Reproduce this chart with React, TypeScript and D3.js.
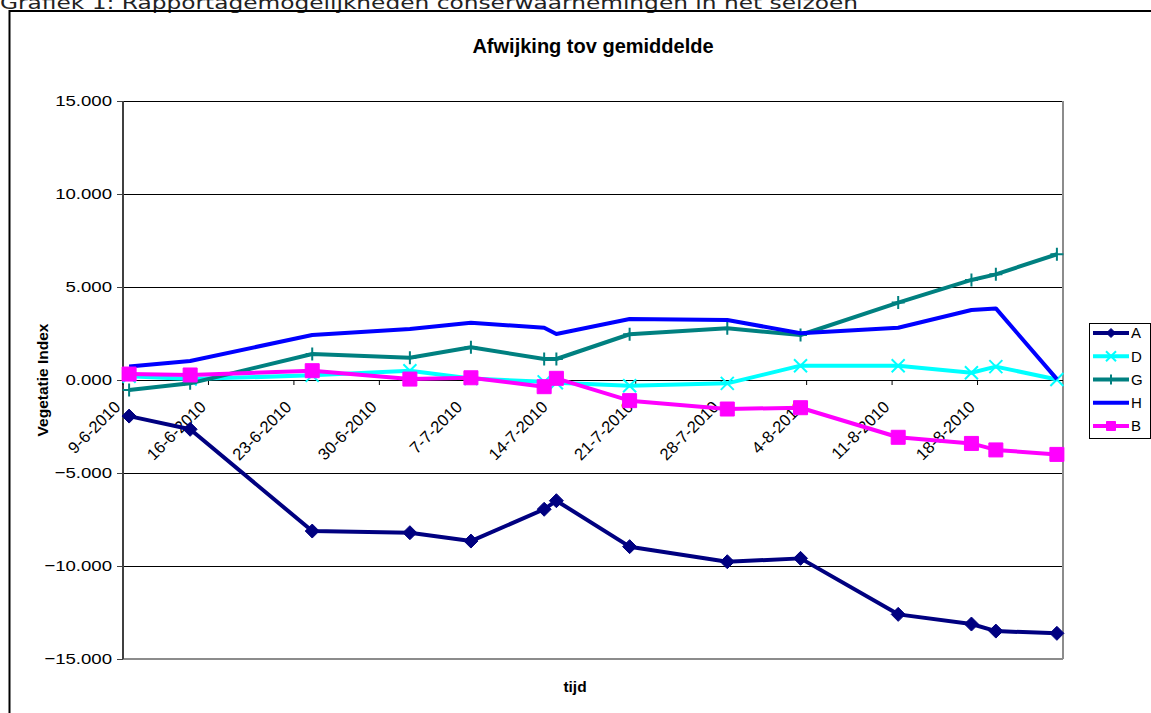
import React from "react";
import * as d3 from "d3";

// Observation dates (day-month-year)
const dates: string[] = [
  "2010-06-09", "2010-06-14", "2010-06-24", "2010-07-02", "2010-07-07",
  "2010-07-13", "2010-07-14", "2010-07-20", "2010-07-28", "2010-08-03",
  "2010-08-11", "2010-08-17", "2010-08-19", "2010-08-24",
];

// Deviation from the mean, per series
const valuesA = [-1.94, -2.65, -8.12, -8.21, -8.66, -6.95, -6.49, -8.96, -9.77, -9.59, -12.6, -13.12, -13.5, -13.62];
const valuesD = [0.2, 0.05, 0.25, 0.5, 0.08, -0.1, -0.15, -0.31, -0.18, 0.77, 0.77, 0.39, 0.72, 0.03];
const valuesG = [-0.54, -0.18, 1.4, 1.2, 1.76, 1.13, 1.13, 2.46, 2.78, 2.42, 4.16, 5.38, 5.68, 6.76];
const valuesH = [0.72, 1.02, 2.42, 2.74, 3.08, 2.81, 2.47, 3.28, 3.23, 2.51, 2.81, 3.76, 3.85, 0.05];
const valuesB = [0.32, 0.27, 0.5, 0.05, 0.12, -0.36, 0.09, -1.11, -1.56, -1.49, -3.08, -3.41, -3.76, -4.0];

const seriesNames = ["A", "D", "G", "H", "B"];
const seriesColors = ["#000080", "#00FFFF", "#008080", "#0000FF", "#FF00FF"];
const seriesMarkers = ["diamond", "times", "plus", "none", "square"];
const seriesValues = [valuesA, valuesD, valuesG, valuesH, valuesB];

const yTicks = [-15, -10, -5, 0, 5, 10, 15];

const chartTitle = "Afwijking tov gemiddelde";
const yTitle = "Vegetatie Index";
const xTitle = "tijd";
const captionText = "Grafiek 1: Rapportagemogelijkheden conserwaarnemingen in het seizoen";

const W = 1151;
const H = 713;
const M = { left: 123, right: 1063, top: 101, bottom: 659 };
const FONT = "'Liberation Sans', Arial, sans-serif";

const parse = d3.utcParse("%Y-%m-%d");
const fmtDate = d3.utcFormat("%-d-%-m-%Y");
const fmtY = d3.format(".3f");

const axisStart = parse("2010-06-09") as Date;
const axisEnd = parse("2010-08-25") as Date;

const x = d3.scaleUtc().domain([axisStart, axisEnd]).range([M.left, M.right]);
const y = d3.scaleLinear().domain([-15, 15]).range([M.bottom, M.top]);

const HALF_DAY = 12 * 3600 * 1000;
const px = (d: Date) => x(new Date(d.getTime() + HALF_DAY));

const weekTicks = d3.utcDay.range(axisStart, axisEnd, 7);
const parsedDates = dates.map((s) => parse(s) as Date);

function markerPath(kind: string, s: number): string {
  const h = s / 2;
  switch (kind) {
    case "diamond":
      return `M0,${-h}L${h},0L0,${h}L${-h},0Z`;
    case "square":
      return `M${-h},${-h}H${h}V${h}H${-h}Z`;
    case "times":
      return `M${-h},${-h}L${h},${h}M${-h},${h}L${h},${-h}`;
    case "plus":
      return `M0,${-h}V${h}M${-h},0H${h}`;
    default:
      return "";
  }
}

const markerSize: Record<string, number> = { diamond: 14, square: 14, times: 13, plus: 13 };
const legendMarkerSize: Record<string, number> = { diamond: 9, square: 9, times: 10, plus: 10 };

function Marker({ kind, color, s, cx, cy }: { kind: string; color: string; s: number; cx: number; cy: number }) {
  if (kind === "none") return null;
  const filled = kind === "diamond" || kind === "square";
  return (
    <path
      d={markerPath(kind, s)}
      transform={`translate(${cx},${cy})`}
      fill={filled ? color : "none"}
      stroke={color}
      strokeWidth={filled ? 1 : 2}
    />
  );
}

export default function App() {
  const line = d3
    .line<[Date, number]>()
    .x((d) => px(d[0]))
    .y((d) => y(d[1]));

  const legendX = 1089;
  const legendY = 323;
  const legendRow = 23.25;

  return (
    <svg
      width={W}
      height={H}
      style={{ position: "absolute", left: 0, top: 0, display: "block", background: "#fff" }}
      fontFamily={FONT}
    >
      <rect x={0} y={0} width={W} height={H} fill="#fff" />
      {/* caption above the frame, partly cut off by the page top */}
      <text x={0} y={9} fontFamily="'DejaVu Sans', Verdana, sans-serif" fontSize={17} fill="#222" textLength={858} lengthAdjust="spacingAndGlyphs">
        {captionText}
      </text>
      {/* outer chart frame */}
      <rect x={9.5} y={11} width={1300} height={900} fill="none" stroke="#000" strokeWidth={2} />

      <text x={593} y={53} textAnchor="middle" fontWeight="bold" fontSize={20}>
        {chartTitle}
      </text>

      {/* horizontal gridlines */}
      {yTicks
        .filter((t) => t !== -15 && t !== 0)
        .map((t) => (
          <line key={`g${t}`} x1={M.left} x2={M.right} y1={y(t) + 0.5} y2={y(t) + 0.5} stroke="#000" strokeWidth={1} />
        ))}

      {/* plot border right/bottom */}
      <line x1={M.right} x2={M.right} y1={M.top} y2={M.bottom} stroke="#8c8c8c" strokeWidth={2} />
      <line x1={M.left} x2={M.right} y1={M.bottom} y2={M.bottom} stroke="#8c8c8c" strokeWidth={2} />

      {/* y axis */}
      <line x1={M.left} x2={M.left} y1={M.top} y2={M.bottom} stroke="#404040" strokeWidth={2} />
      {yTicks.map((t) => (
        <g key={`y${t}`}>
          <line x1={M.left - 6} x2={M.left} y1={y(t) + 0.5} y2={y(t) + 0.5} stroke="#404040" strokeWidth={1} />
          <text
            transform={`translate(112,${y(t)}) scale(1.2,1)`}
            dy="0.35em"
            textAnchor="end"
            fontSize={15.5}
          >
            {fmtY(t)}
          </text>
        </g>
      ))}

      {/* x axis at zero */}
      <line x1={M.left} x2={M.right} y1={y(0) + 0.5} y2={y(0) + 0.5} stroke="#000" strokeWidth={1} />
      {weekTicks.map((d) => (
        <g key={`x${d.getTime()}`}>
          <line x1={x(d)} x2={x(d)} y1={y(0)} y2={y(0) + 5} stroke="#000" strokeWidth={1} />
          <text
            transform={`translate(${x(d) - 1.5},${y(0) + 28}) rotate(-45)`}
            textAnchor="end"
            fontSize={16.5}
          >
            {fmtDate(d)}
          </text>
        </g>
      ))}

      {/* series */}
      {seriesValues.map((vals, i) => {
        const pts: [Date, number][] = parsedDates.map((d, j) => [d, vals[j]]);
        return (
          <g key={seriesNames[i]}>
            <path d={line(pts) || ""} fill="none" stroke={seriesColors[i]} strokeWidth={4} strokeLinejoin="round" />
            {pts.map((p, j) => (
              <Marker
                key={j}
                kind={seriesMarkers[i]}
                color={seriesColors[i]}
                s={markerSize[seriesMarkers[i]] || 0}
                cx={px(p[0])}
                cy={y(p[1])}
              />
            ))}
          </g>
        );
      })}

      <text x={43} y={380} textAnchor="middle" fontWeight="bold" fontSize={15.5} transform="rotate(-90,43,380)" dy="0.35em">
        {yTitle}
      </text>
      <text x={575} y={687} textAnchor="middle" fontWeight="bold" fontSize={15.5} dy="0.35em">
        {xTitle}
      </text>

      {/* legend */}
      <rect x={legendX + 0.5} y={legendY + 0.5} width={61} height={115} fill="#fff" stroke="#000" strokeWidth={1} />
      {seriesNames.map((name, i) => {
        const cy = legendY + 10 + i * legendRow;
        return (
          <g key={`l${name}`}>
            <line x1={1093} x2={1129} y1={cy} y2={cy} stroke={seriesColors[i]} strokeWidth={4} />
            <Marker kind={seriesMarkers[i]} color={seriesColors[i]} s={legendMarkerSize[seriesMarkers[i]] || 0} cx={1111} cy={cy} />
            <text x={1131} y={cy} dy="0.35em" fontSize={15}>
              {name}
            </text>
          </g>
        );
      })}
    </svg>
  );
}
